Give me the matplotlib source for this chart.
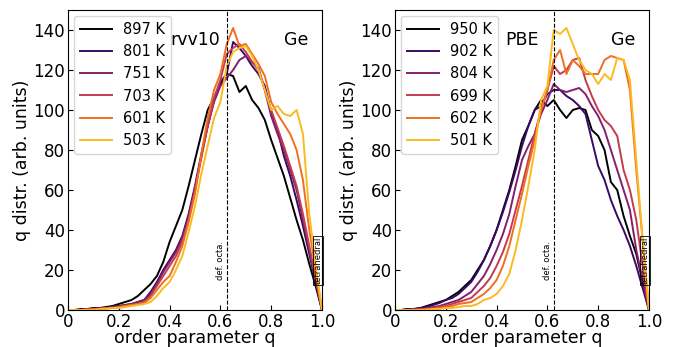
import numpy as np
import matplotlib
matplotlib.use("Agg")
import matplotlib.pyplot as plt

q = np.linspace(0, 1, 41)  # step 0.025

# left panel, rvv10
left_labels = ["897 K", "801 K", "751 K", "703 K", "601 K", "503 K"]
l897 = [0, 0, 0.5, 0.5, 1, 1, 1.5, 2, 3, 4, 5, 7, 10, 13, 17, 24, 34, 42, 50, 62, 75, 88, 100, 106, 113, 118, 117, 109,
        112, 105, 101, 95, 85, 76, 67, 56, 45, 35, 23, 12, 0]
l801 = [0, 0, 0, 0.5, 0.5, 1, 1, 1.5, 2, 2.5, 3, 4, 5, 9, 14, 20, 25, 30, 37, 48, 62, 78, 92, 105, 114, 118, 134, 131,
        127, 122, 118, 112, 99, 90, 77, 67, 55, 42, 28, 14, 0]
l751 = [0, 0, 0, 0.5, 0.5, 1, 1, 1.5, 2, 2.5, 3, 4, 5, 8, 13, 19, 24, 29, 36, 47, 61, 77, 92, 104, 112, 116, 120, 125,
        127, 124, 121, 110, 97, 88, 80, 70, 60, 45, 30, 15, 0]
l703 = [0, 0, 0, 0.5, 0.5, 0.5, 1, 1, 1.5, 2, 2.5, 3, 4, 7, 12, 17, 22, 27, 34, 45, 60, 76, 92, 106, 115, 128, 131, 133,
        129, 124, 120, 110, 100, 91, 82, 72, 62, 48, 32, 16, 0]
l601 = [0, 0, 0, 0, 0.5, 0.5, 1, 1, 1.5, 2, 2.5, 3, 3.5, 6, 10, 14, 17, 24, 32, 44, 58, 78, 96, 110, 118, 133, 141, 132,
        133, 128, 123, 117, 104, 98, 93, 88, 80, 65, 40, 20, 0]
l503 = [0, 0, 0, 0, 0, 0.5, 0.5, 1, 1, 1.5, 2, 2.5, 3, 4, 7, 11, 14, 20, 27, 39, 52, 68, 82, 96, 104, 122, 129, 131,
        132, 127, 120, 110, 100, 102, 98, 97, 100, 88, 48, 22, 0]

# right panel, PBE
right_labels = ["950 K", "902 K", "804 K", "699 K", "602 K", "501 K"]
r950 = [0, 0, 0.5, 0.5, 1, 2, 3, 4, 5, 7, 9, 12, 15, 20, 25, 32, 40, 50, 60, 72, 85, 92, 100, 105, 102, 105, 100, 96,
        100, 101, 100, 90, 87, 80, 64, 60, 47, 37, 28, 14, 0]
r902 = [0, 0, 0.5, 0.5, 1, 1.5, 2.5, 3.5, 5, 6, 8, 11, 14, 19, 25, 32, 40, 49, 59, 70, 82, 92, 100, 102, 108, 110, 110,
        107, 105, 102, 98, 85, 72, 65, 55, 47, 40, 32, 22, 11, 0]
r804 = [0, 0, 0, 0.5, 0.5, 1, 1.5, 2, 3, 4, 5, 7, 9, 13, 17, 23, 30, 38, 48, 62, 75, 82, 88, 98, 105, 113, 110, 109,
        110, 111, 108, 102, 97, 90, 80, 70, 60, 50, 30, 15, 0]
r699 = [0, 0, 0, 0, 0.5, 0.5, 1, 1.5, 2, 3, 4, 5, 6, 9, 12, 16, 22, 29, 38, 50, 62, 75, 88, 100, 110, 122, 118, 120,
        125, 126, 115, 107, 100, 95, 92, 87, 70, 60, 45, 22, 0]
r602 = [0, 0, 0, 0, 0, 0.5, 0.5, 1, 1.5, 2, 3, 3.5, 4, 6, 8, 11, 15, 22, 32, 45, 58, 72, 85, 100, 110, 125, 130, 118,
        125, 122, 118, 118, 118, 125, 127, 126, 125, 110, 70, 35, 0]
r501 = [0, 0, 0, 0, 0, 0, 0.5, 0.5, 1, 1, 1.5, 2, 2, 3, 5, 6, 8, 12, 18, 30, 45, 62, 80, 105, 112, 140, 138, 141, 133,
        125, 120, 118, 113, 118, 115, 126, 125, 115, 75, 35, 0]

colors = plt.cm.inferno([0.0, 0.18, 0.36, 0.52, 0.68, 0.84])

fig = plt.figure(figsize=(6.78, 3.47), dpi=100)
ax1 = fig.add_axes([0.1003, 0.1066, 0.3746, 0.8646])
ax2 = fig.add_axes([0.5826, 0.1066, 0.3746, 0.8646])

panels = [
    (ax1, [l897, l801, l751, l703, l601, l503], left_labels),
    (ax2, [r950, r902, r804, r699, r602, r501], right_labels),
]

for ax, series, labels in panels:
    for y, lab, c in zip(series, labels, colors):
        ax.plot(q, y, color=c, lw=1.4, label=lab)
    ax.axvline(0.625, color="k", ls="--", lw=0.8)
    ax.text(0.6, 15, "def. octa.", rotation=90, fontsize=6, ha="center", va="bottom")
    ax.text(0.985, 13, "tetrahedral", rotation=90, fontsize=6, ha="center", va="bottom",
            bbox=dict(facecolor="none", edgecolor="k", pad=0.5, lw=0.6))
    ax.text(0.9, 135, "Ge", fontsize=12.5, ha="center", va="center")
    ax.set_xlim(0, 1)
    ax.set_ylim(0, 150)
    ax.set_xticks([0, 0.2, 0.4, 0.6, 0.8, 1.0])
    ax.set_xticklabels(["0", "0.2", "0.4", "0.6", "0.8", "1.0"])
    ax.set_yticks(range(0, 141, 20))
    ax.tick_params(direction="in", labelsize=12, pad=2)
    ax.set_xlabel("order parameter q", fontsize=12.5, labelpad=-1)
    ax.set_ylabel("q distr. (arb. units)", fontsize=12.5, labelpad=2)
    ax.legend(loc="upper left", fontsize=10.5, handlelength=2.2, borderaxespad=0.4)

ax1.text(0.5, 135, "rvv10", fontsize=12.5, ha="center", va="center")
ax2.text(0.5, 135, "PBE", fontsize=12.5, ha="center", va="center")

fig.savefig("out.png", dpi=100)
